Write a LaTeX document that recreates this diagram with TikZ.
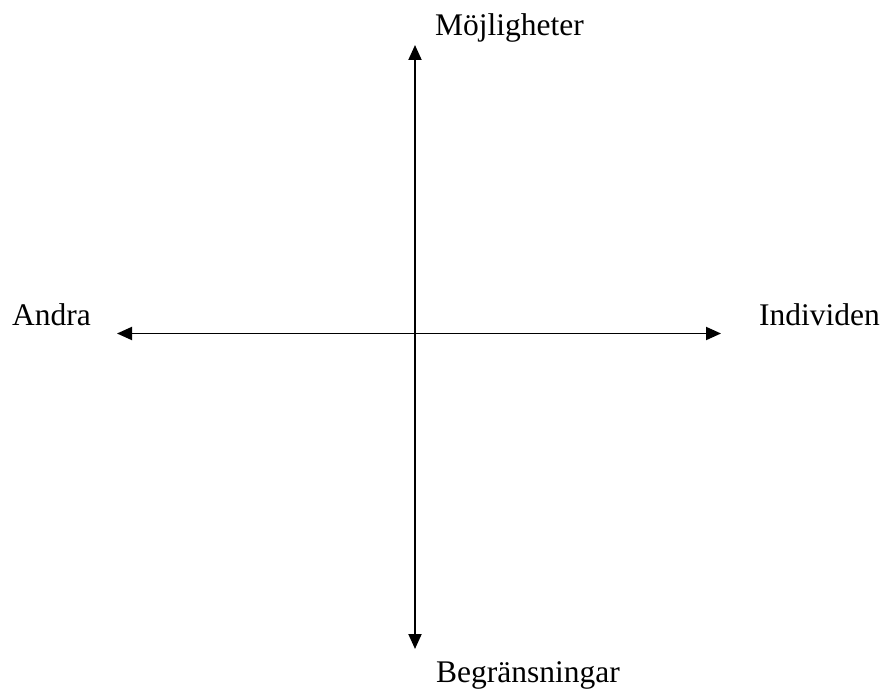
\documentclass[tikz,border=0pt]{standalone}
\usepackage{fontspec}
\setmainfont{Liberation Serif}
\usetikzlibrary{arrows.meta}
\tikzset{
  axislabel/.style={anchor=base west, inner sep=0pt, font=\fontsize{31.5}{36}\selectfont},
  axisarrow/.style={line width=1.9pt, {Triangle[length=15pt,width=13pt]}-{Triangle[length=15pt,width=13pt]}}
}
\begin{document}
\begin{tikzpicture}[x=1pt,y=1pt]
\useasboundingbox (0,0) rectangle (885,689);
\coordinate (top) at (415,644);
\coordinate (bottom) at (415,40);
\coordinate (left) at (117,355.5);
\coordinate (right) at (721,355.5);
\draw[axisarrow] (bottom) -- (top);
\draw[axisarrow] (left) -- (right);
\node[axislabel] (moj) at (435,653) {Möjligheter};
\node[axislabel] (andra) at (12,364) {Andra};
\node[axislabel] (ind) at (759,364) {Individen};
\node[axislabel] (begr) at (436,6.5) {Begränsningar};
\end{tikzpicture}
\end{document}
